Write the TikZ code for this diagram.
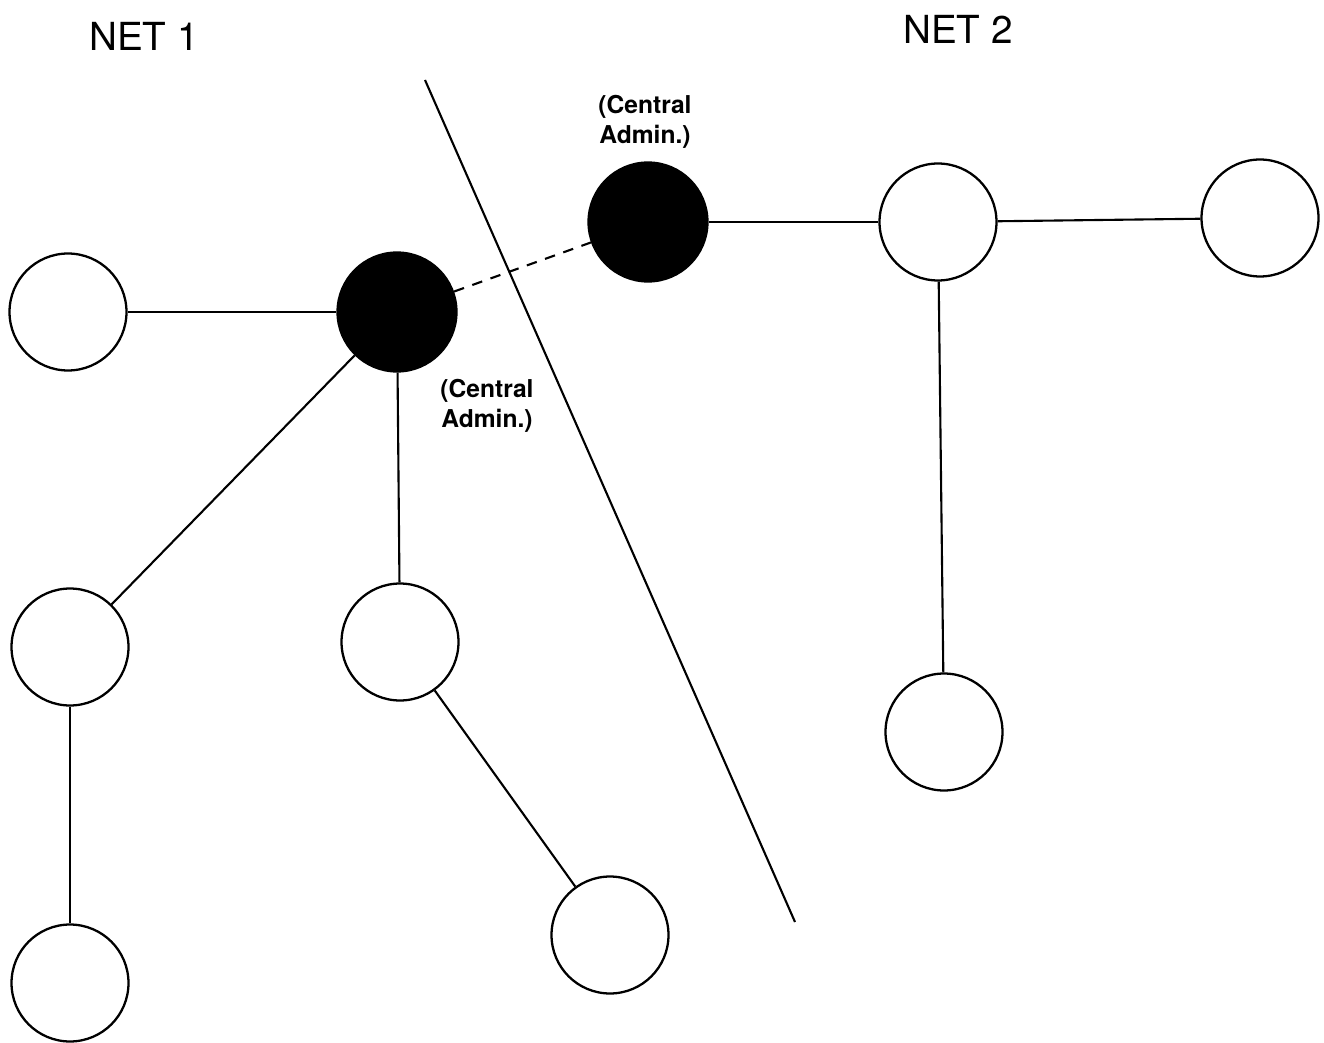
\documentclass[tikz,border=0pt]{standalone}
\usepackage{fontspec}
\setmainfont{TeX Gyre Heros}
\usetikzlibrary{positioning}
\tikzset{
  % plain member of a net
  netnode/.style={circle, draw, line width=1.3pt, fill=white, minimum size=2.34cm, inner sep=0pt},
  % central administration of a net
  adminnode/.style={netnode, fill=black, minimum size=2.38cm},
  % links inside a net and between the nets
  link/.style={line width=1.2pt},
  interlink/.style={link, dash pattern=on 6pt off 5pt},
  % border between the two nets
  border/.style={line width=1.2pt},
  netlabel/.style={font=\fontsize{22}{26}\selectfont},
  adminlabel/.style={font=\fontsize{14}{17}\selectfont\bfseries, align=center},
}

\begin{document}
\begin{tikzpicture}[x=0.02cm, y=-0.02cm]
    \useasboundingbox (0,0) rectangle (1324,1043);
    % net 1
    \node[adminnode] (admA) at (397,312) {};
    \node[netnode] (n1) at (68,312) {};
    \node[netnode] (n2) at (70,647) {};
    \node[netnode] (n3) at (400,642) {};
    \node[netnode] (n4) at (70,983) {};
    \node[netnode] (n5) at (610,935) {};
    % net 2
    \node[adminnode] (admB) at (648,222) {};
    \node[netnode] (m1) at (938,222) {};
    \node[netnode] (m2) at (1260,218) {};
    \node[netnode] (m3) at (944,732) {};
    % links
    \draw[link] (n1) -- (admA);
    \draw[link] (admA) -- (n2);
    \draw[link] (admA) -- (n3);
    \draw[link] (n2) -- (n4);
    \draw[link] (n3) -- (n5);
    \draw[link] (admB) -- (m1);
    \draw[link] (m1) -- (m2);
    \draw[link] (m1) -- (m3);
    \draw[interlink] (admA) -- (admB);
    % border
    \coordinate (bTop) at (425,80);
    \coordinate (bBot) at (795,922);
    \draw[border] (bTop) -- (bBot);
    % labels
    \node[netlabel] (lbl1) at (144,36) {NET 1};
    \node[netlabel] (lbl2) at (958,29) {NET 2};
    \node[adminlabel] (adm1) at (487,406) {(Central\\Admin.)};
    \node[adminlabel] (adm2) at (645,122) {(Central\\Admin.)};
\end{tikzpicture}
\end{document}
